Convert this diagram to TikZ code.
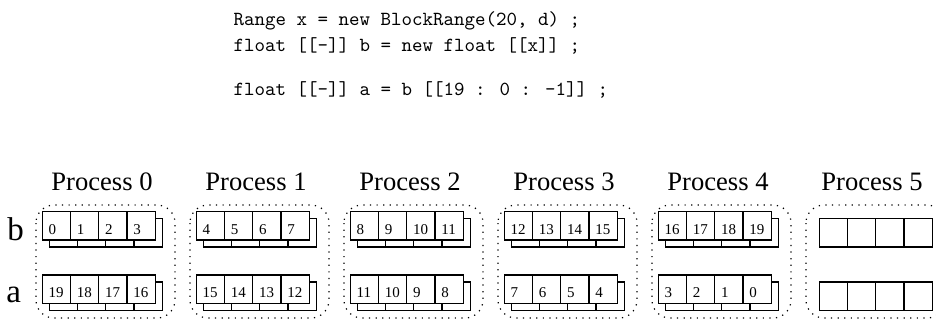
\documentclass[tikz,border=0pt]{standalone}
\usepackage{fontspec}
\setmainfont{Liberation Serif}

\tikzset{
  cell/.style={draw, fill=white, line width=0.6pt, inner sep=0pt, outer sep=0pt,
    minimum width=14.1pt, minimum height=14.15pt, anchor=north west},
  num/.style={font=\fontsize{7.5}{9}\selectfont, inner sep=0pt, anchor=base west},
  proc/.style={line width=0.6pt, dash pattern=on 0.6pt off 2.7pt, rounded corners=9pt},
  title/.style={font=\fontsize{13.3}{15}\selectfont, inner sep=0pt, anchor=base},
  var/.style={font=\fontsize{16.5}{18}\selectfont, inner sep=0pt, anchor=base west},
  code/.style={font=\ttfamily\fontsize{10}{12}\selectfont, inner sep=0pt, anchor=base west}
}

% hidden layer of a row: #1 name, #2 top edge of the row
\def\drawBack#1#2{
  \foreach \k in {0,...,3}
    \node[cell] (#1back-\k) at (49.3+28.2*\k,#2+7) {};
}
% row of four cells: #1 name, #2 top edge, #3 first value, #4 step
\def\drawRow#1#2#3#4{
  \drawBack{#1}{#2}
  \foreach \k in {0,...,3} {
    \pgfmathtruncatemacro\n{#3+(#4)*\k}
    \node[cell] (#1-\k) at (42.3+28.2*\k,#2) {};
    \node[num] at ([shift={(6,-6)}]#1-\k.south west) {\n};
  }
}

\begin{document}
\begin{tikzpicture}[x=0.5pt,y=-0.5pt]
  \useasboundingbox (0,0) rectangle (936,323);

  \node[code] (line1) at (233.3,25) {Range x = new BlockRange(20, d) ;};
  \node[code] (line2) at (233.3,51) {float [[-]] b = new float [[x]] ;};
  \node[code] (line3) at (233.3,95) {float [[-]] a = b [[19 : 0 : -1]] ;};

  \node[var] (b) at (7,240) {b};
  \node[var] (a) at (6,302) {a};

  \foreach \p in {0,...,5} {
    \begin{scope}[xshift=\p*77pt]
      \draw[proc] (36,205) rectangle (175,318);
      \node[title] (title\p) at (102,190) {Process \p};
    \end{scope}
  }

  \foreach \p in {0,...,4} {
    \begin{scope}[xshift=\p*77pt]
      \drawRow{b\p}{211.7}{4*\p}{1}
      \drawRow{a\p}{275}{19-4*\p}{-1}
    \end{scope}
  }

  % last process holds no elements
  \begin{scope}[xshift=385pt]
    \drawBack{b5}{211.7}
    \drawBack{a5}{275}
  \end{scope}
\end{tikzpicture}
\end{document}
